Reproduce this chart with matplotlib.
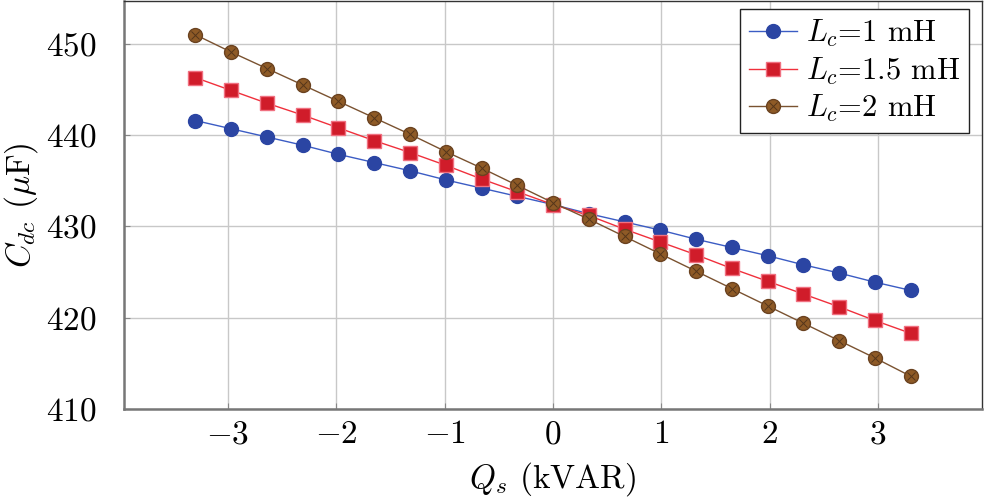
import matplotlib
matplotlib.use("Agg")
import matplotlib.pyplot as plt
import numpy as np

qs = [-3.3, -2.97, -2.64, -2.31, -1.98, -1.65, -1.32, -0.99, -0.66, -0.33, 0.0,
      0.33, 0.66, 0.99, 1.32, 1.65, 1.98, 2.31, 2.64, 2.97, 3.3]
c_lc1 = [441.6, 440.7, 439.8, 438.9, 437.9, 437.0, 436.1, 435.1, 434.2, 433.3, 432.4,
         431.4, 430.5, 429.6, 428.6, 427.7, 426.8, 425.8, 424.9, 423.9, 423.0]
c_lc15 = [446.3, 444.9, 443.5, 442.2, 440.8, 439.4, 438.1, 436.7, 435.2, 433.8, 432.4,
          431.2, 429.7, 428.3, 426.9, 425.4, 424.0, 422.6, 421.2, 419.7, 418.3]
c_lc2 = [451.0, 449.1, 447.3, 445.5, 443.7, 441.9, 440.1, 438.2, 436.4, 434.5, 432.6,
         430.8, 428.9, 427.0, 425.1, 423.2, 421.3, 419.4, 417.5, 415.6, 413.6]
labels = ["$L_c$=1 mH", "$L_c$=1.5 mH", "$L_c$=2 mH"]
xticks = [-3, -2, -1, 0, 1, 2, 3]
yticks = [410, 420, 430, 440, 450]

plt.rcParams['font.family'] = ['cmr10', 'DejaVu Serif']
plt.rcParams['mathtext.fontset'] = 'cm'
plt.rcParams['axes.formatter.use_mathtext'] = True

fig = plt.figure(figsize=(9.84, 5.0), dpi=100)
ax = fig.add_axes([0.126, 0.182, 0.872, 0.816])

fs = 24
h1, = ax.plot(qs, c_lc1, color='#3b5cc4', lw=1.0, marker='o', ms=10,
              mfc='#2b45a3', mec='#2b45a3', label=labels[0])
h2, = ax.plot(qs, c_lc15, color='#f0303c', lw=1.0, marker='s', ms=10,
              mfc='#d01c2a', mec='#f07080', mew=1.0, label=labels[1])
h3, = ax.plot(qs, c_lc2, color='#7a5230', lw=1.0, marker='o', ms=10,
              mfc='#8e5a26', mec='#6a4220', mew=1.0, label=labels[2])
h3x, = ax.plot(qs, c_lc2, ls='none', marker='x', ms=6, mec='#55361a', mew=0.7)

ax.set_xlim(-3.96, 3.96)
ax.set_ylim(410, 454.7)
ax.set_xticks(xticks)
ax.set_xticklabels(["$%d$" % v for v in xticks])
ax.set_yticks(yticks)
ax.set_yticklabels(["$%d$" % v for v in yticks])
ax.tick_params(direction='in', length=4, labelsize=fs, color='#888888')
ax.tick_params(axis='x', pad=8)
ax.tick_params(axis='y', pad=20)
ax.grid(True, color='#c8c8c8', lw=1.0)
ax.set_axisbelow(True)
for s in ax.spines.values():
    s.set_color('#333333')
    s.set_linewidth(1.0)
ax.spines['left'].set_color('#777777'); ax.spines['left'].set_linewidth(1.8)
ax.spines['bottom'].set_color('#777777'); ax.spines['bottom'].set_linewidth(1.8)

ax.set_xlabel(r"$Q_s$ (kVAR)", fontsize=fs, labelpad=8)
ax.set_ylabel(r"$C_{dc}$ ($\mu$F)", fontsize=fs, labelpad=4)

leg = ax.legend([h1, h2, (h3, h3x)], labels, loc='upper right',
                bbox_to_anchor=(0.985, 0.982), bbox_transform=fig.transFigure,
                fontsize=22, fancybox=False, edgecolor='#222222', framealpha=1,
                handlelength=1.55, handletextpad=0.3, borderpad=0.3,
                labelspacing=0.2, borderaxespad=0)
leg.get_frame().set_linewidth(1.0)

fig.savefig("out.png", dpi=100)
